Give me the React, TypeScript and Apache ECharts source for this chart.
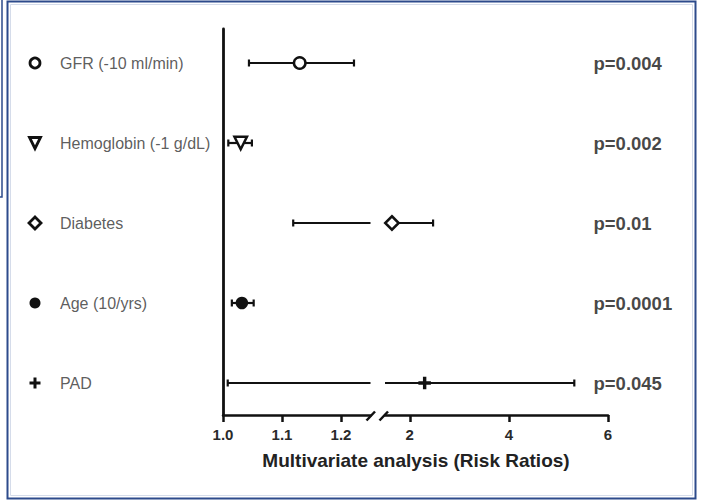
import React, { useEffect, useRef } from "react";
import * as echarts from "echarts";

const rowNames = ["GFR (-10 ml/min)", "Hemoglobin (-1 g/dL)", "Diabetes", "Age (10/yrs)", "PAD"];
const riskRatio = [1.13, 1.03, 1.64, 1.032, 2.3];
const ciLower = [1.044, 1.009, 1.119, 1.015, 1.008];
const ciUpper = [1.222, 1.049, 2.47, 1.052, 5.32];
const pValues = ["p=0.004", "p=0.002", "p=0.01", "p=0.0001", "p=0.045"];
const lowTicks = [1.0, 1.1, 1.2];
const highTicks = [2, 4, 6];
const lowRange = [1.0, 1.25];
const highRange = [1.5, 6];
const axisTitle = "Multivariate analysis (Risk Ratios)";

const PLUS = "path://M4,0H7V4H11V7H7V11H4V7H0V4H4Z";
const rowSymbols = ["circle", "triangle", "diamond", "circle", PLUS];
const rowRotate = [0, 180, 0, 0, 0];
const rowFill = ["#ffffff", "#ffffff", "#ffffff", "#111111", "#111111"];
const rowOpen = [true, true, true, false, false];
const rowSizeBoost = [0, 1, 2, 0, 0];

const Y_MIN = -0.425;
const Y_MAX = 4.4;
const INK = "#111111";
const FONT = "Liberation Sans";

function markerItem(i: number, x: number, size: number, bw: number) {
  return {
    value: [x, i],
    symbol: rowSymbols[i],
    symbolRotate: rowRotate[i],
    symbolSize: (rowOpen[i] ? size : size + 1) + rowSizeBoost[i],
    itemStyle: {
      color: rowFill[i],
      borderColor: INK,
      borderWidth: rowOpen[i] ? bw : 0,
      opacity: 1,
    },
  };
}

function errorBarSeries(idx: number) {
  return {
    type: "custom",
    xAxisIndex: idx,
    yAxisIndex: idx,
    silent: true,
    data: rowNames.map((_, i) => [ciLower[i], i, ciUpper[i]]),
    renderItem: (params: any, api: any) => {
      const cs = params.coordSys;
      const lo = api.coord([api.value(0), api.value(1)]);
      const hi = api.coord([api.value(2), api.value(1)]);
      const y = lo[1];
      const left = Math.max(lo[0], cs.x);
      const right = Math.min(hi[0], cs.x + cs.width);
      if (right <= left) return { type: "group", children: [] };
      const style = { stroke: INK, lineWidth: 2.2 };
      const children: any[] = [
        { type: "line", shape: { x1: left, y1: y, x2: right, y2: y }, style },
      ];
      if (lo[0] >= cs.x) {
        children.push({ type: "line", shape: { x1: lo[0], y1: y - 3.5, x2: lo[0], y2: y + 3.5 }, style });
      }
      if (hi[0] <= cs.x + cs.width) {
        children.push({ type: "line", shape: { x1: hi[0], y1: y - 3.5, x2: hi[0], y2: y + 3.5 }, style });
      }
      return { type: "group", children };
    },
  };
}

function pointSeries(idx: number, range: number[]) {
  const data: any[] = [];
  riskRatio.forEach((v, i) => {
    if (v >= range[0] && v <= range[1]) data.push(markerItem(i, v, 11.5, 2.5));
  });
  return {
    type: "scatter",
    xAxisIndex: idx,
    yAxisIndex: idx,
    silent: true,
    z: 5,
    data,
  };
}

function valueXAxis(idx: number, range: number[], ticks: number[], fmt: (v: number) => string) {
  return {
    type: "value",
    gridIndex: idx,
    min: range[0],
    max: range[1],
    axisLine: { show: true, onZero: false, lineStyle: { color: INK, width: 2.5 } },
    axisTick: { show: true, length: 7, customValues: ticks, lineStyle: { color: INK, width: 2.5 } },
    axisLabel: {
      show: true,
      customValues: ticks,
      formatter: fmt,
      fontFamily: FONT,
      fontWeight: "bold",
      fontSize: 15,
      color: "#2a2a2a",
      margin: 12,
    },
    splitLine: { show: false },
  };
}

function hiddenXAxis(idx: number) {
  return { type: "value", gridIndex: idx, min: 0, max: 1, show: false };
}

function yAxis(idx: number, show: boolean) {
  return {
    type: "value",
    gridIndex: idx,
    min: Y_MIN,
    max: Y_MAX,
    inverse: true,
    show,
    axisLine: { show, onZero: false, lineStyle: { color: INK, width: 2.8 } },
    axisTick: { show: false },
    axisLabel: { show: false },
    splitLine: { show: false },
  };
}

export default function App() {
  const ref = useRef<HTMLDivElement>(null);
  useEffect(() => {
    document.body.style.margin = "0";
    const chart = echarts.init(ref.current!, null, { renderer: "svg" });
    const gridBase = { top: 29, height: 386 };
    const option: any = {
      animation: false,
      backgroundColor: "#ffffff",
      grid: [
        { ...gridBase, left: 223, width: 147.5 },
        { ...gridBase, left: 385, width: 223 },
        { ...gridBase, left: 35, width: 10 },
        { ...gridBase, left: 593, width: 10 },
      ],
      xAxis: [
        valueXAxis(0, lowRange, lowTicks, (v: number) => v.toFixed(1)),
        valueXAxis(1, highRange, highTicks, (v: number) => String(v)),
        hiddenXAxis(2),
        hiddenXAxis(3),
      ],
      yAxis: [yAxis(0, true), yAxis(1, false), yAxis(2, false), yAxis(3, false)],
      series: [
        errorBarSeries(0),
        errorBarSeries(1),
        pointSeries(0, lowRange),
        pointSeries(1, highRange),
        {
          type: "scatter",
          xAxisIndex: 2,
          yAxisIndex: 2,
          silent: true,
          data: rowNames.map((_, i) => markerItem(i, 0, 10, 2.8)),
        },
        {
          type: "scatter",
          xAxisIndex: 2,
          yAxisIndex: 2,
          silent: true,
          symbolSize: 1,
          itemStyle: { color: "rgba(0,0,0,0)" },
          data: rowNames.map((_, i) => [0, i]),
          label: {
            show: true,
            position: "right",
            distance: 24.5,
            formatter: (p: any) => rowNames[p.dataIndex],
            fontFamily: FONT,
            fontSize: 16,
            color: "#333333",
          },
        },
        {
          type: "scatter",
          xAxisIndex: 3,
          yAxisIndex: 3,
          silent: true,
          symbolSize: 1,
          itemStyle: { color: "rgba(0,0,0,0)" },
          data: pValues.map((_, i) => [0, i]),
          label: {
            show: true,
            position: "right",
            distance: 0,
            formatter: (p: any) => pValues[p.dataIndex],
            fontFamily: FONT,
            fontSize: 18.5,
            fontWeight: "bold",
            color: "#151515",
          },
        },
      ],
      graphic: [
        {
          type: "rect",
          shape: { x: 7.5, y: 1.5, width: 688, height: 497 },
          style: { fill: "none", stroke: "#2d4b8b", lineWidth: 2 },
          silent: true,
        },
        {
          type: "rect",
          shape: { x: 10.5, y: 4.5, width: 682, height: 491 },
          style: { fill: "none", stroke: "#d5dcea", lineWidth: 1 },
          silent: true,
        },
        {
          type: "polyline",
          shape: { points: [[2, 0], [2, 197], [0, 197]] },
          style: { fill: "none", stroke: "#2d4b8b", lineWidth: 1.5 },
          silent: true,
        },
        {
          type: "line",
          shape: { x1: 366.5, y1: 420.5, x2: 375, y2: 411.5 },
          style: { stroke: INK, lineWidth: 2.5 },
          silent: true,
        },
        {
          type: "line",
          shape: { x1: 379.5, y1: 420.5, x2: 388, y2: 411.5 },
          style: { stroke: INK, lineWidth: 2.5 },
          silent: true,
        },
        {
          type: "text",
          x: 416,
          y: 460,
          silent: true,
          style: {
            text: axisTitle,
            fontFamily: FONT,
            fontSize: 19,
            fontWeight: "bold",
            fill: "#222222",
            align: "center",
            verticalAlign: "middle",
          },
        },
      ],
    };
    chart.setOption(option);
    return () => chart.dispose();
  }, []);
  return <div ref={ref} style={{ width: 701, height: 501 }} />;
}
